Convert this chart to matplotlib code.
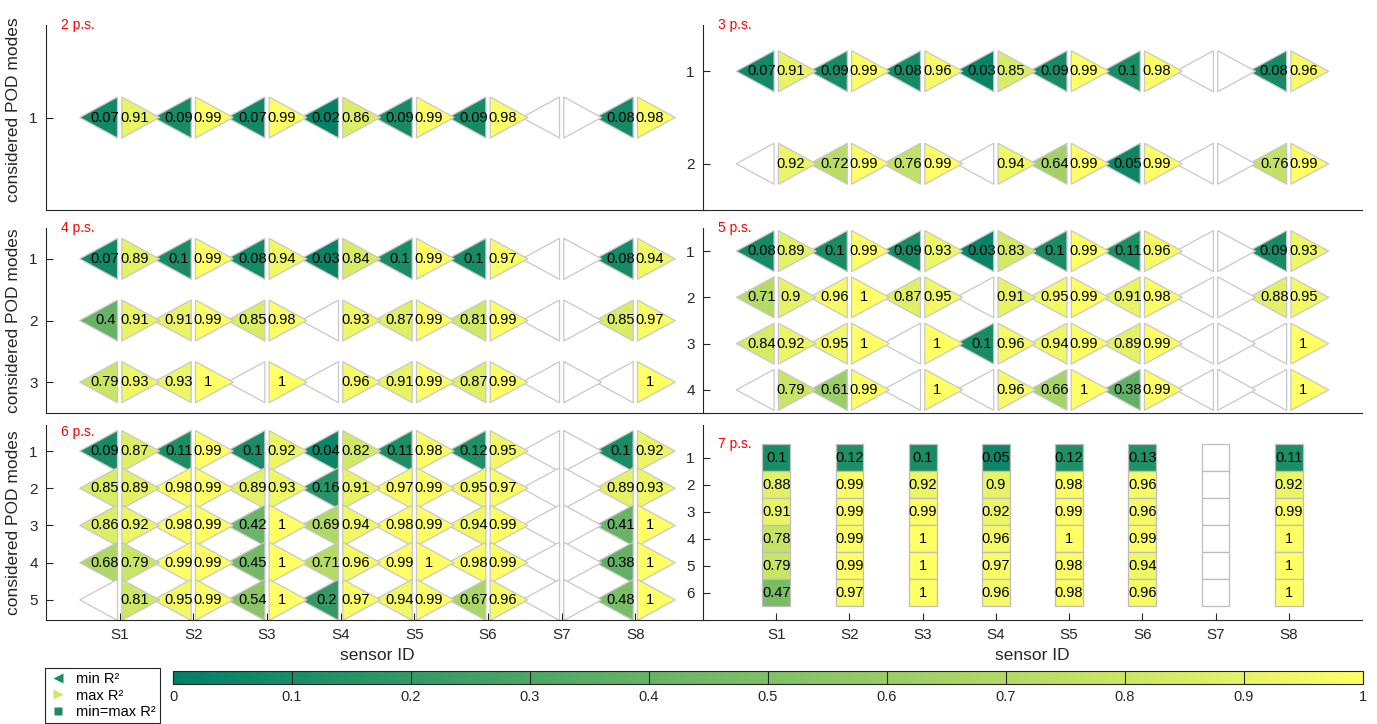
import numpy as np
import matplotlib
matplotlib.use('Agg')
import matplotlib.pyplot as plt
from matplotlib.transforms import offset_copy
from matplotlib.lines import Line2D
from matplotlib.cm import ScalarMappable
from matplotlib.colors import Normalize

plt.rcParams['font.family'] = ['Liberation Sans', 'DejaVu Sans']

nan = np.nan
sensors = ['S1', 'S2', 'S3', 'S4', 'S5', 'S6', 'S7', 'S8']

# ---- data: rows = considered POD modes, columns = sensors ----
min_2ps = [[0.07, 0.09, 0.07, 0.02, 0.09, 0.09, nan, 0.08]]
max_2ps = [[0.91, 0.99, 0.99, 0.86, 0.99, 0.98, nan, 0.98]]

min_3ps = [[0.07, 0.09, 0.08, 0.03, 0.09, 0.10, nan, 0.08],
           [nan, 0.72, 0.76, nan, 0.64, 0.05, nan, 0.76]]
max_3ps = [[0.91, 0.99, 0.96, 0.85, 0.99, 0.98, nan, 0.96],
           [0.92, 0.99, 0.99, 0.94, 0.99, 0.99, nan, 0.99]]

min_4ps = [[0.07, 0.10, 0.08, 0.03, 0.10, 0.10, nan, 0.08],
           [0.40, 0.91, 0.85, nan, 0.87, 0.81, nan, 0.85],
           [0.79, 0.93, nan, nan, 0.91, 0.87, nan, nan]]
max_4ps = [[0.89, 0.99, 0.94, 0.84, 0.99, 0.97, nan, 0.94],
           [0.91, 0.99, 0.98, 0.93, 0.99, 0.99, nan, 0.97],
           [0.93, 1.00, 1.00, 0.96, 0.99, 0.99, nan, 1.00]]

min_5ps = [[0.08, 0.10, 0.09, 0.03, 0.10, 0.11, nan, 0.09],
           [0.71, 0.96, 0.87, nan, 0.95, 0.91, nan, 0.88],
           [0.84, 0.95, nan, 0.10, 0.94, 0.89, nan, nan],
           [nan, 0.61, nan, nan, 0.66, 0.38, nan, nan]]
max_5ps = [[0.89, 0.99, 0.93, 0.83, 0.99, 0.96, nan, 0.93],
           [0.90, 1.00, 0.95, 0.91, 0.99, 0.98, nan, 0.95],
           [0.92, 1.00, 1.00, 0.96, 0.99, 0.99, nan, 1.00],
           [0.79, 0.99, 1.00, 0.96, 1.00, 0.99, nan, 1.00]]

min_6ps = [[0.09, 0.11, 0.10, 0.04, 0.11, 0.12, nan, 0.10],
           [0.85, 0.98, 0.89, 0.16, 0.97, 0.95, nan, 0.89],
           [0.86, 0.98, 0.42, 0.69, 0.98, 0.94, nan, 0.41],
           [0.68, 0.99, 0.45, 0.71, 0.99, 0.98, nan, 0.38],
           [nan, 0.95, 0.54, 0.20, 0.94, 0.67, nan, 0.48]]
max_6ps = [[0.87, 0.99, 0.92, 0.82, 0.98, 0.95, nan, 0.92],
           [0.89, 0.99, 0.93, 0.91, 0.99, 0.97, nan, 0.93],
           [0.92, 0.99, 1.00, 0.94, 0.99, 0.99, nan, 1.00],
           [0.79, 0.99, 1.00, 0.96, 1.00, 0.99, nan, 1.00],
           [0.81, 0.99, 1.00, 0.97, 0.99, 0.96, nan, 1.00]]

r2_7ps = [[0.10, 0.12, 0.10, 0.05, 0.12, 0.13, nan, 0.11],
          [0.88, 0.99, 0.92, 0.90, 0.98, 0.96, nan, 0.92],
          [0.91, 0.99, 0.99, 0.92, 0.99, 0.96, nan, 0.99],
          [0.78, 0.99, 1.00, 0.96, 1.00, 0.99, nan, 1.00],
          [0.79, 0.99, 1.00, 0.97, 0.98, 0.94, nan, 1.00],
          [0.47, 0.97, 1.00, 0.96, 0.98, 0.96, nan, 1.00]]

panel_titles = ['2 p.s.', '3 p.s.', '4 p.s.', '5 p.s.', '6 p.s.', '7 p.s.']
cbar_ticks = [0, 0.1, 0.2, 0.3, 0.4, 0.5, 0.6, 0.7, 0.8, 0.9, 1]

# ---- style ----
W, H = 1377, 724
DPI = 100
cmap = plt.get_cmap('summer')
norm = Normalize(0, 1)
EDGE = '#c8c8c8'
AXC = '#262626'
TRI_H = 41.0                     # px
TRI_SIZE = (TRI_H * 72 / DPI) ** 2
left_tri = np.array([[0.46, 0.5], [-0.46, 0.0], [0.46, -0.5], [0.46, 0.5]])
right_tri = np.array([[-0.46, 0.5], [0.46, 0.0], [-0.46, -0.5], [-0.46, 0.5]])
MARK_OFF = 21.0   # px from sensor centre to triangle centre
TXT_OFF = 14.6    # px from sensor centre to triangle centroid


def fmt(v):
    s = f"{v:.2f}".rstrip('0').rstrip('.')
    return s


fig = plt.figure(figsize=(W / DPI, H / DPI), dpi=DPI)


def add_ax(x0, x1, y0, y1):
    return fig.add_axes([x0 / W, 1 - y1 / H, (x1 - x0) / W, (y1 - y0) / H])


def style(ax, nrows, ylim, show_x):
    ax.set_xlim(0, 9)
    ax.set_ylim(*ylim)
    for s in ['top', 'right']:
        ax.spines[s].set_visible(False)
    for s in ['left', 'bottom']:
        ax.spines[s].set_color(AXC)
        ax.spines[s].set_linewidth(0.8)
    ax.set_yticks(np.arange(1, nrows + 1))
    ax.tick_params(axis='y', direction='in', length=5, width=0.8, colors=AXC,
                   labelsize=11, pad=6)
    if show_x:
        ax.set_xticks(np.arange(1, 9))
        ax.set_xticklabels(sensors)
        ax.tick_params(axis='x', direction='in', length=5, width=0.8, colors=AXC,
                       labelsize=11, pad=6)
        ax.set_xlabel('sensor ID', fontsize=12.5, color=AXC, labelpad=4)
    else:
        ax.set_xticks([])


def draw_diamonds(ax, mins, maxs):
    mins = np.array(mins, dtype=float)
    maxs = np.array(maxs, dtype=float)
    xs = np.arange(1, 9)
    tl = offset_copy(ax.transData, fig=fig, x=-MARK_OFF, y=0, units='dots')
    tr = offset_copy(ax.transData, fig=fig, x=MARK_OFF, y=0, units='dots')
    ttl = offset_copy(ax.transData, fig=fig, x=-TXT_OFF, y=0, units='dots')
    ttr = offset_copy(ax.transData, fig=fig, x=TXT_OFF, y=0, units='dots')
    for r in range(mins.shape[0]):
        y = np.full(8, r + 1.0)
        for vals, mk, tm, tt in [(mins[r], left_tri, tl, ttl), (maxs[r], right_tri, tr, ttr)]:
            ok = ~np.isnan(vals)
            fc = [cmap(norm(v)) if not np.isnan(v) else (1, 1, 1, 1) for v in vals]
            ax.scatter(xs, y, s=TRI_SIZE, marker=mk, c=fc, edgecolors=EDGE,
                       linewidths=0.9, transform=tm, clip_on=False, zorder=2)
            for x, v in zip(xs[ok], vals[ok]):
                ax.text(x, r + 1, fmt(v), transform=tt, ha='center', va='center',
                        fontsize=10.5, color='black', zorder=3, clip_on=False)


LX0, LX1 = 46, 709
RX0, RX1 = 703, 1362
rows_px = [(25, 210), (228, 413), (425, 620)]

# 2 p.s.
axA = add_ax(LX0, LX1, *rows_px[0])
style(axA, 1, (1.5, 0.5), False)
draw_diamonds(axA, min_2ps, max_2ps)
# 3 p.s.
axB = add_ax(RX0, RX1, *rows_px[0])
style(axB, 2, (2.5, 0.5), False)
draw_diamonds(axB, min_3ps, max_3ps)
# 4 p.s.
axC = add_ax(LX0, LX1, *rows_px[1])
style(axC, 3, (3.5, 0.5), False)
draw_diamonds(axC, min_4ps, max_4ps)
# 5 p.s.
axD = add_ax(RX0, RX1, *rows_px[1])
style(axD, 4, (4.5, 0.5), False)
draw_diamonds(axD, min_5ps, max_5ps)
# 6 p.s.
axE = add_ax(LX0, LX1, *rows_px[2])
style(axE, 5, (5.54, 0.30), True)
draw_diamonds(axE, min_6ps, max_6ps)
# 7 p.s.
axF = add_ax(RX0, RX1, *rows_px[2])
style(axF, 6, (7.0, -0.22), True)
vals7 = np.array(r2_7ps, dtype=float)
xs = np.arange(1, 9)
for r in range(vals7.shape[0]):
    v = vals7[r]
    fc = [cmap(norm(x)) if not np.isnan(x) else (1, 1, 1, 1) for x in v]
    axF.bar(xs, 1.0, bottom=r + 0.5, width=0.38, color=fc, edgecolor='#bdbdbd',
            linewidth=0.9, zorder=2)
    for x, val in zip(xs, v):
        if not np.isnan(val):
            axF.text(x, r + 1, fmt(val), ha='center', va='center', fontsize=10.5,
                     color='black', zorder=3)

for ax, t in zip([axA, axB, axC, axD, axE, axF], panel_titles):
    ax.text(0.2, 0.5, t, color='red', fontsize=10, ha='left', va='center',
            clip_on=False, zorder=5)

for ax, yc in [(axA, 0.54), (axC, 0.5), (axE, 0.5)]:
    ax.set_ylabel('considered POD modes', fontsize=12.5, color=AXC)
    ax.yaxis.set_label_coords(-(46 - 21) / (LX1 - LX0), yc)

# colorbar
cax = add_ax(173, 1363, 671, 684)
cb = fig.colorbar(ScalarMappable(norm=norm, cmap=cmap), cax=cax,
                  orientation='horizontal', ticks=cbar_ticks)
cb.ax.set_xticklabels([fmt(t) for t in cbar_ticks])
cb.ax.tick_params(direction='in', length=13 * 72 / DPI, width=0.8, colors=AXC,
                  labelsize=10.5, pad=4)
cb.outline.set_edgecolor(AXC)
cb.outline.set_linewidth(0.8)

# legend
handles = [
    Line2D([], [], linestyle='none', marker='<', markersize=7,
           markerfacecolor=cmap(0.1), markeredgecolor='none', label='min R²'),
    Line2D([], [], linestyle='none', marker='>', markersize=7,
           markerfacecolor=cmap(0.8), markeredgecolor='none', label='max R²'),
    Line2D([], [], linestyle='none', marker='s', markersize=6,
           markerfacecolor=cmap(0.1), markeredgecolor='none', label='min=max R²'),
]
leg = fig.legend(handles=handles, loc='upper left',
                 bbox_to_anchor=(45 / W, 1 - 668 / H), frameon=True,
                 fancybox=False, edgecolor=AXC, framealpha=1, fontsize=10.5,
                 handlelength=1.3, borderpad=0.25, labelspacing=0.2,
                 handletextpad=0.6, borderaxespad=0)
leg.get_frame().set_linewidth(0.8)

fig.savefig('out.png', dpi=DPI)
